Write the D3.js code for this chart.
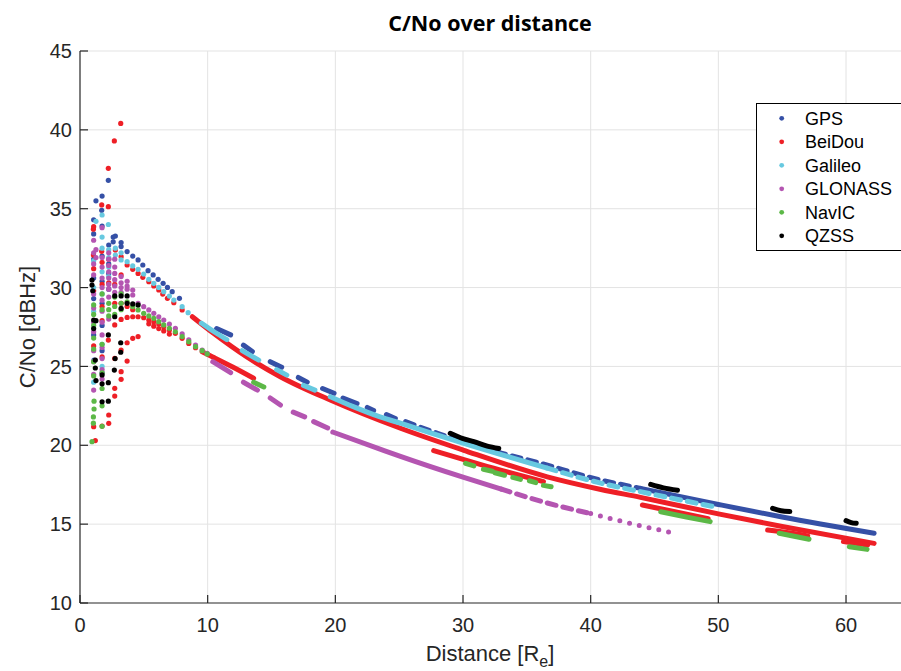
<!DOCTYPE html>
<html><head><meta charset="utf-8">
<script src="https://cdn.jsdelivr.net/npm/d3@7"></script>
<style>body{margin:0;background:#fff;}svg{display:block;}</style>
</head><body>
<svg id="chart" width="901" height="671"></svg>
<script>
// ---------------- DATA ----------------
const seriesNames = ["GPS", "BeiDou", "Galileo", "GLONASS", "NavIC", "QZSS"];
const xTicks = [0, 10, 20, 30, 40, 50, 60];
const yTicks = [10, 15, 20, 25, 30, 35, 40, 45];

// GPS
const gpsDots = [[1.07,34.3],[1.25,35.5],[1.73,35.8],[1.7,34.9],[2.22,36.8],[1.07,33.4],[1.07,31.8],[1.07,30.6],[1.07,29.3],[1.07,27.0],[1.1,25.4],[1.73,33.9],[1.73,32.0],[1.73,30.4],[1.73,29.0],[1.73,27.6],[1.73,26.0],[1.73,24.6],[2.25,32.7],[2.25,31.5],[2.25,30.9],[2.25,29.9],[2.6,33.2],[2.6,32.9],[2.77,33.27],[3.22,32.85],[3.22,32.6],[3.69,32.28],[4.13,32.0],[4.55,31.75],[4.92,31.43],[5.33,31.07],[5.73,30.8],[6.12,30.52],[6.51,30.27],[6.85,30.01],[7.22,29.74],[7.79,29.32]];
const gpsSegments = [[[10.7,27.4],[11.8,27.0]],[[12.8,26.35],[13.5,25.95]],[[14.9,25.3],[15.8,24.95]],[[17.1,24.3],[17.8,24.0]],[[19.0,23.6],[19.9,23.3]],[[20.6,23.0],[21.7,22.65]],[[22.5,22.4],[23.0,22.2]],[[24.0,21.95],[24.7,21.7]],[[43.9,17.27],[50,16.25],[55,15.45],[62.2,14.42]]];
const gpsDashedSegments = [[[25.5,21.5],[28,20.76],[33.07,19.49],[36.08,18.86],[40.26,17.9],[43.9,17.27]]];

// BeiDou
const beidouDots = [[3.19,40.41],[2.69,39.3],[2.22,37.56],[2.22,35.13],[1.7,35.24],[1.05,33.7],[1.07,33.86],[1.05,32.06],[1.7,32.3],[1.07,31.2],[1.07,29.8],[1.73,31.6],[1.73,30.2],[1.73,28.8],[1.73,27.9],[2.25,31.8],[2.25,30.3],[2.72,30.2],[3.22,30.8],[2.72,29.0],[3.22,29.0],[3.69,28.8],[4.13,28.6],
  [2.77,32.38],[3.22,31.96],[3.69,31.43],[4.13,31.16],[4.55,30.9],[4.92,30.65],[5.39,30.37],[5.78,30.1],[6.17,29.85],[6.48,29.59],[6.85,29.32],[7.35,29.04],[8.0,28.58],
  [2.72,27.63],[3.22,27.98],[3.69,28.11],[4.13,28.15],[4.55,28.15],[4.99,28.09],[5.39,27.94],[5.78,27.84],[6.17,27.69],[6.56,27.52],[7.0,27.31],[7.47,27.1],[8.0,26.78],[8.52,26.46],[9.05,26.19],
  [5.39,27.7],[5.78,27.55],[6.17,27.4],[6.56,27.25],[7.0,27.05],
  [2.72,25.51],[3.22,26.04],[3.69,26.5],[4.13,26.78],[4.55,26.89],[3.22,24.67],[3.22,24.18],[3.69,25.34],[2.72,23.61],[2.72,23.12],[2.25,21.92],[2.25,21.39],[1.73,21.22],[1.07,21.18],[1.2,20.3],[2.22,26.67],[1.07,26.3],[1.73,25.6]];
const beidouSegments = [[[8.8,28.15],[10.46,27.1],[13.07,25.6],[15.69,24.35],[19.6,22.87],[25.1,21.08],[30,19.7],[36.6,18.0],[40.8,17.2],[43.9,16.7],[50,15.65],[55,14.85],[62.2,13.78]],
  [[9.57,25.93],[10.4,25.6],[12,24.95],[13.6,24.25]],
  [[27.7,19.66],[31.4,18.78],[36.3,17.7]],
  [[44.05,16.21],[46.5,15.8],[49.2,15.35]],
  [[53.86,14.63],[55.5,14.45],[57.0,14.25]],
  [[59.8,13.9],[61.7,13.68]]];

// Galileo
const galileoDots = [[1.07,31.7],[1.07,30.0],[1.07,28.5],[1.07,24.0],[1.25,34.2],[1.73,34.6],[1.73,33.2],[1.73,32.5],[1.73,31.0],[1.73,29.6],[1.73,26.4],[1.73,25.0],[2.22,34.0],[2.25,32.4],[2.25,31.9],[2.25,31.3],[2.25,30.7],[2.77,32.5],[2.77,32.06],[3.22,31.75],[3.22,32.2],[3.69,31.64],[4.13,31.37],[4.55,31.16],[4.99,30.86],[5.39,30.52],[5.78,30.27],[6.17,30.01],[6.56,29.74],[7.0,29.46],[7.35,29.21],[8.0,28.79],[8.47,28.41]];
const galileoSegments = [[[9.5,27.75],[10.5,27.2],[11.5,26.7]],[[12.7,26.0],[14.0,25.4]],[[15.4,24.8],[16.2,24.45]],[[17.5,23.8],[18.4,23.5]],
  [[19.6,23.08],[21.4,22.45],[23.5,21.8],[25.1,21.4],[30,20.14],[36.6,18.55]]];
const galileoDashedSegments = [[[36.6,18.55],[40.8,17.6],[43.9,17.06],[49.7,16.1]]];

// GLONASS
const glonassDots = [[1.07,33.0],[1.07,32.2],[1.07,31.5],[1.07,30.8],[1.07,29.6],[1.07,28.7],[1.07,27.8],[1.07,27.2],[1.07,26.0],[1.07,25.3],[1.07,24.5],[1.07,23.5],[1.25,32.4],[1.25,31.9],
  [1.73,33.8],[1.73,31.9],[1.73,31.3],[1.73,30.6],[1.73,30.0],[1.73,29.2],[1.73,28.5],[1.73,27.8],[1.73,27.0],[1.73,26.2],[1.73,25.5],[1.73,24.8],[1.73,24.2],
  [2.25,32.2],[2.25,31.8],[2.25,31.4],[2.25,31.0],[2.25,30.6],[2.25,30.2],[2.25,29.9],[2.25,29.4],[2.25,28.0],
  [2.72,31.8],[2.72,31.3],[2.72,30.9],[2.72,30.5],[2.72,30.1],[2.72,29.7],[3.22,30.7],[3.22,30.3],[3.22,30.0],[3.22,29.7],[3.69,30.4],[3.69,30.1],[3.69,29.9],[4.13,29.84],[4.13,29.53],
  [4.55,29.0],[4.99,28.79],[5.39,28.58],[5.78,28.37],[6.17,28.15],[6.56,27.94],[7.0,27.69],[7.47,27.42],[8.0,27.06],[8.52,26.68],[9.05,26.36],[9.57,26.04],[9.96,25.83]];
const glonassSegments = [[[10.4,25.3],[11.8,24.6]],[[12.8,24.0],[13.9,23.5]],[[14.9,23.0],[15.7,22.55]],[[16.7,22.1],[17.6,21.8]],[[18.3,21.5],[19.4,21.1]],
  [[19.8,20.84],[23.5,19.76],[25.1,19.3],[30,17.98],[33,17.22]]];
const glonassDashedSegments = [[[33,17.22],[36.6,16.34],[40,15.67]]];
const glonassDottedSegments = [[[40,15.67],[43.9,14.9],[46.6,14.42]]];

// NavIC
const navicDots = [[0.94,20.23],[1.05,21.4],[1.05,21.8],[1.1,22.3],[1.1,22.8],[1.07,24.4],[1.07,25.3],[1.07,26.1],[1.07,26.8],[1.07,27.6],[1.07,28.3],[1.07,28.9],
  [1.73,29.6],[1.73,28.6],[1.73,26.4],[1.73,24.6],[1.73,23.6],[1.73,22.5],[1.73,21.2],[2.25,29.0],[2.25,28.6],[2.25,28.2],[2.72,29.4],[2.72,28.8],[2.72,28.3],[3.22,29.6],[3.22,29.0],[3.22,28.6],
  [3.69,29.1],[4.13,28.79],[4.55,28.58],[4.99,28.37],[5.39,28.2],[5.78,28.05],[6.17,27.84],[6.56,27.63],[7.0,27.42],[7.47,27.2],[8.0,26.89],[8.52,26.57],[9.05,26.25],[9.57,26.0],[9.96,25.79]];
const navicSegments = [[[13.6,24.0],[14.4,23.7]],[[30.2,18.86],[30.85,18.69]],[[31.6,18.48],[32.3,18.35]],[[32.5,18.26],[33.25,18.1]],[[33.9,17.97],[34.5,17.84]],[[35.2,17.75],[35.7,17.63]],[[36.3,17.46],[36.9,17.37]],
  [[45.49,15.79],[47.5,15.45],[49.36,15.16]],[[54.77,14.42],[57.1,14.04]],[[60.26,13.57],[61.65,13.4]]];

// QZSS
const qzssDots = [[0.94,30.48],[0.94,30.16],[1.0,29.8],[1.07,27.94],[1.07,27.4],[1.2,25.4],[1.2,24.9],[1.25,24.1],[1.25,27.9],[1.73,24.46],[1.73,23.9],[1.73,22.76],[2.22,27.0],[2.22,23.97],[2.22,22.8],[2.72,29.47],[2.72,28.15],[2.75,25.5],[2.69,24.77],[3.19,26.5],[3.19,25.9],[3.22,29.47],[3.22,28.68],[3.69,29.47],[3.69,29.0],[4.13,28.96],[4.55,28.9]];
const qzssSegments = [[[29.0,20.76],[30.0,20.42],[30.85,20.23],[31.9,19.95],[32.8,19.8]],[[44.7,17.52],[45.7,17.3],[46.8,17.15]],[[54.25,16.0],[54.9,15.85],[55.6,15.8]],[[60.0,15.22],[60.4,15.1],[60.8,15.05]]];

// ---------------- CHART ----------------
const colors = ["#3550a6", "#ee1f26", "#67c9e0", "#b455b1", "#5cb847", "#000000"];
const series = [
  {dots: gpsDots, segs: gpsSegments, dashed: gpsDashedSegments, dotted: []},
  {dots: beidouDots, segs: beidouSegments, dashed: [], dotted: []},
  {dots: galileoDots, segs: galileoSegments, dashed: galileoDashedSegments, dotted: []},
  {dots: glonassDots, segs: glonassSegments, dashed: glonassDashedSegments, dotted: glonassDottedSegments},
  {dots: navicDots, segs: navicSegments, dashed: [], dotted: []},
  {dots: qzssDots, segs: qzssSegments, dashed: [], dotted: []}
];

const svg = d3.select("#chart");
const x = d3.scaleLinear().domain([0, 65]).range([80, 80 + 65 * 12.767]);
const y = d3.scaleLinear().domain([10, 45]).range([603, 51]);
const font = "'Liberation Sans', Arial, Helvetica, sans-serif";

// grid
const grid = svg.append("g").attr("stroke", "#e3e3e3").attr("stroke-width", 1);
xTicks.filter(d => d > 0).forEach(d => grid.append("line").attr("x1", x(d)).attr("x2", x(d)).attr("y1", y(10)).attr("y2", y(45)));
yTicks.filter(d => d > 10).forEach(d => grid.append("line").attr("x1", x(0)).attr("x2", x(65)).attr("y1", y(d)).attr("y2", y(d)));

// data
const plot = svg.append("g");
const line = d3.line().x(d => x(d[0])).y(d => y(d[1])).curve(d3.curveMonotoneX);
series.forEach((s, i) => {
  const c = colors[i];
  const g = plot.append("g");
  s.segs.forEach(seg => g.append("path").attr("d", line(seg)).attr("fill", "none").attr("stroke", c)
    .attr("stroke-width", 5).attr("stroke-linecap", "round"));
  s.dashed.forEach(seg => g.append("path").attr("d", line(seg)).attr("fill", "none").attr("stroke", c)
    .attr("stroke-width", 5).attr("stroke-linecap", "round").attr("stroke-dasharray", "9,7"));
  s.dotted.forEach(seg => g.append("path").attr("d", line(seg)).attr("fill", "none").attr("stroke", c)
    .attr("stroke-width", 5).attr("stroke-linecap", "round").attr("stroke-dasharray", "0,10"));
  g.selectAll("circle").data(s.dots).join("circle")
    .attr("cx", d => x(d[0])).attr("cy", d => y(d[1])).attr("r", 2.6).attr("fill", c);
});

// axes
const axisColor = "#262626";
const ax = svg.append("g").attr("stroke", axisColor).attr("stroke-width", 1.2);
ax.append("line").attr("x1", x(0)).attr("x2", x(0)).attr("y1", y(10)).attr("y2", y(45));
ax.append("line").attr("x1", x(0)).attr("x2", 901).attr("y1", y(10)).attr("y2", y(10));
xTicks.forEach(d => ax.append("line").attr("x1", x(d)).attr("x2", x(d)).attr("y1", y(10)).attr("y2", y(10) - 8));
yTicks.forEach(d => ax.append("line").attr("x1", x(0)).attr("x2", x(0) + 8).attr("y1", y(d)).attr("y2", y(d)));

svg.append("g").selectAll("text").data(xTicks).join("text")
  .attr("x", d => x(d)).attr("y", 632).attr("text-anchor", "middle")
  .attr("font-family", font).attr("font-size", 20).attr("fill", axisColor).text(d => d);
svg.append("g").selectAll("text").data(yTicks).join("text")
  .attr("x", 72).attr("y", d => y(d)).attr("dy", "0.36em").attr("text-anchor", "end")
  .attr("font-family", font).attr("font-size", 20).attr("fill", axisColor).text(d => d);

// labels
const xl = svg.append("text").attr("x", 490).attr("y", 661).attr("text-anchor", "middle")
  .attr("font-family", font).attr("font-size", 22).attr("fill", axisColor);
xl.append("tspan").text("Distance [R");
xl.append("tspan").attr("font-size", 16).attr("dy", 6).text("e");
xl.append("tspan").attr("dy", -6).text("]");

svg.append("text").attr("transform", "translate(35,327) rotate(-90)").attr("text-anchor", "middle")
  .attr("font-family", font).attr("font-size", 22).attr("fill", axisColor).text("C/No [dBHz]");

svg.append("text").attr("x", 490).attr("y", 31).attr("text-anchor", "middle")
  .attr("font-family", "'Open Sans', 'Noto Sans', sans-serif").attr("font-weight", "bold")
  .attr("font-size", 21.5).attr("fill", "#000").text("C/No over distance");

// legend
const lg = svg.append("g");
lg.append("rect").attr("x", 756.5).attr("y", 103.5).attr("width", 170).attr("height", 147)
  .attr("fill", "#fff").attr("stroke", "#000").attr("stroke-width", 1);
seriesNames.forEach((n, i) => {
  const yy = 118.3 + i * 23.5;
  lg.append("circle").attr("cx", 781.7).attr("cy", yy).attr("r", 2.4).attr("fill", colors[i]);
  lg.append("text").attr("x", 805).attr("y", yy).attr("dy", "0.36em")
    .attr("font-family", font).attr("font-size", 18).attr("fill", "#000").text(n);
});
</script>
</body></html>
